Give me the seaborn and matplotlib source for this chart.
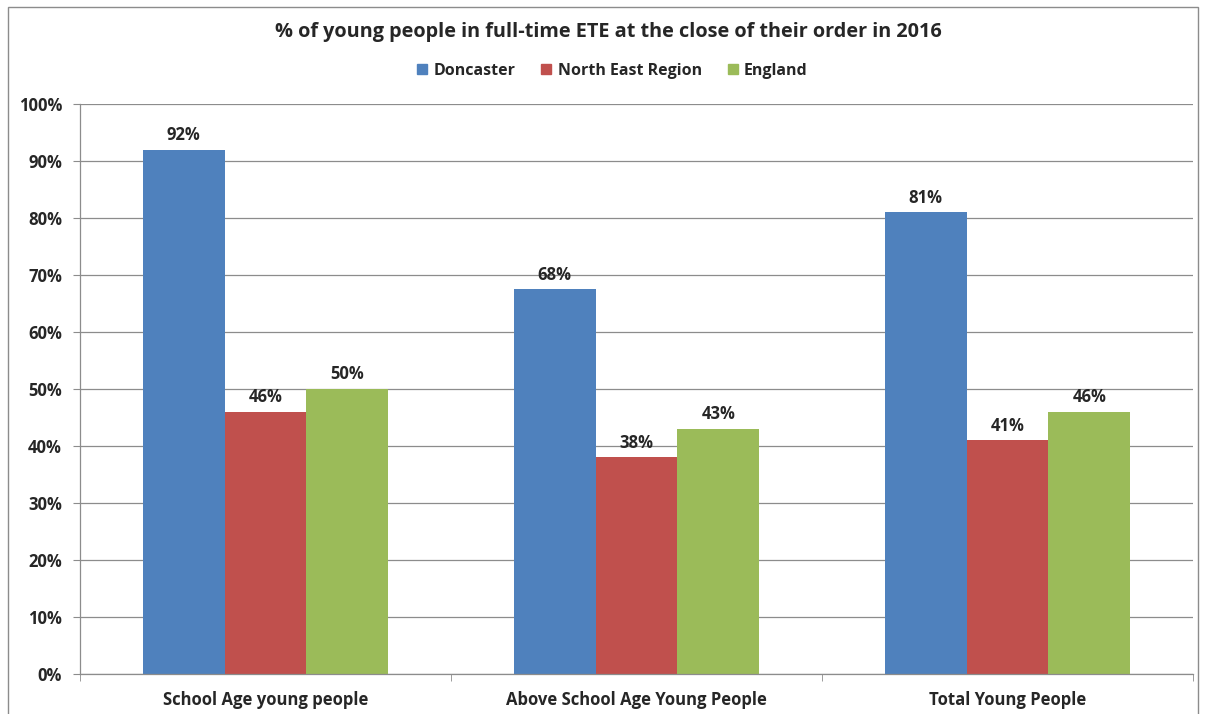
import seaborn as sns
import matplotlib.pyplot as plt
import pandas as pd
from matplotlib.lines import Line2D
from matplotlib.ticker import FixedLocator, PercentFormatter

categories = ["School Age young people", "Above School Age Young People", "Total Young People"]
areas = ["Doncaster", "North East Region", "England"]
doncaster = [92, 67.5, 81]
north_east = [46, 38, 41]
england = [50, 43, 46]
colours = ["#4F81BD", "#C0504D", "#9BBB59"]

rows = []
for area, vals in zip(areas, [doncaster, north_east, england]):
    for cat, v in zip(categories, vals):
        rows.append({"Group": cat, "Area": area, "Value": v})
df = pd.DataFrame(rows)

sns.set_style("white")
plt.rcParams['font.family'] = ['Open Sans', 'DejaVu Sans']
plt.rcParams['font.weight'] = 'bold'

fig = plt.figure(figsize=(12.05, 7.14), dpi=100)
ax = fig.add_axes([80/1205, 40/714, 1113/1205, 570/714])

sns.barplot(data=df, x="Group", y="Value", hue="Area", palette=colours,
            width=0.663, saturation=1, ax=ax, legend=False, linewidth=0)

for cont in ax.containers:
    labels = ["{:.0f}%".format(b.get_height()) for b in cont]
    ax.bar_label(cont, labels=labels, padding=4, fontsize=12, fontweight='bold')

ax.set_ylim(0, 100)
ax.set_xlim(-0.5, 2.5)
ax.set_yticks(range(0, 101, 10))
ax.yaxis.set_major_formatter(PercentFormatter(decimals=0))
ax.yaxis.grid(True, color="#8c8c8c", linewidth=0.9)
ax.set_axisbelow(True)
ax.tick_params(axis='y', length=5, color="#8c8c8c", labelsize=12, pad=8, left=True)
ax.tick_params(axis='x', which='major', length=0, labelsize=12, pad=12)
ax.xaxis.set_minor_locator(FixedLocator([-0.5, 0.5, 1.5, 2.5]))
ax.tick_params(axis='x', which='minor', length=5, color="#8c8c8c", bottom=True)
for lab in ax.get_xticklabels() + ax.get_yticklabels():
    lab.set_fontweight('bold')
ax.set_xlabel("")
ax.set_ylabel("")
for s in ["top", "right"]:
    ax.spines[s].set_visible(False)
for s in ["left", "bottom"]:
    ax.spines[s].set_color("#8c8c8c")
    ax.spines[s].set_linewidth(0.9)

fig.text(608/1205, 1 - 32/714, "% of young people in full-time ETE at the close of their order in 2016",
         ha='center', va='center', fontsize=14.3, fontweight='bold')

handles = [Line2D([], [], marker='s', linestyle='', markersize=7.5, color=c) for c in colours]
fig.legend(handles, areas, loc='center', bbox_to_anchor=(612/1205, 1 - 71/714), ncol=3,
           frameon=False, handletextpad=0.35, handlelength=0.7, columnspacing=1.6,
           prop={'weight': 'bold', 'size': 11.5})

fig.add_artist(plt.Rectangle((8/1205, -0.01), 1190/1205, 1 - 7/714 + 0.01, transform=fig.transFigure,
                             fill=False, edgecolor="#8c8c8c", linewidth=1))

plt.savefig("out.png", dpi=100)
